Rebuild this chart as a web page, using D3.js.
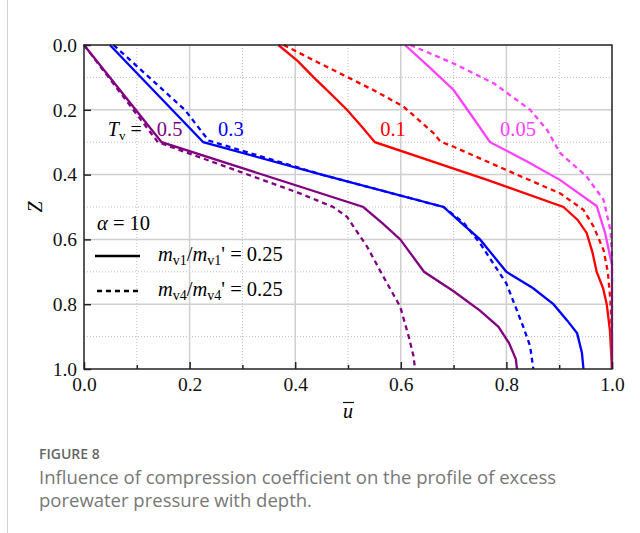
<!DOCTYPE html>
<html lang="en">
<head>
<meta charset="utf-8">
<title>Figure 8</title>
<script src="https://d3js.org/d3.v7.min.js"></script>
<style>
  body { margin: 0; background: #fff; }
  svg text { font-family: "Liberation Serif", "Times New Roman", serif; }
  svg text.caption { font-family: "Open Sans", sans-serif; fill: #777; }
</style>
</head>
<body>
<script>
// data: [u, Z] pairs
var tv05Solid = [[0,0],[0.147,0.30],[0.529,0.50],[0.565,0.55],[0.599,0.60],[0.644,0.70],[0.70,0.76],[0.75,0.82],[0.785,0.87],[0.805,0.92],[0.818,0.97],[0.82,1.0]];
var tv05Dash  = [[0,0],[0.14,0.30],[0.409,0.458],[0.472,0.50],[0.498,0.53],[0.536,0.622],[0.567,0.715],[0.599,0.808],[0.615,0.90],[0.624,0.96],[0.627,1.0]];
var tv03Solid = [[0.049,0],[0.226,0.30],[0.45,0.40],[0.681,0.50],[0.715,0.55],[0.75,0.60],[0.80,0.70],[0.85,0.75],[0.889,0.80],[0.915,0.85],[0.934,0.89],[0.943,0.95],[0.946,1.0]];
var tv03Dash  = [[0.056,0],[0.191,0.20],[0.236,0.295],[0.45,0.40],[0.681,0.50],[0.72,0.55],[0.75,0.612],[0.80,0.736],[0.832,0.87],[0.845,0.93],[0.851,1.0]];
var tv01Solid = [[0.368,0],[0.405,0.05],[0.435,0.10],[0.467,0.15],[0.498,0.20],[0.525,0.25],[0.551,0.30],[0.765,0.417],[0.908,0.50],[0.935,0.54],[0.952,0.58],[0.963,0.64],[0.971,0.70],[0.983,0.75],[0.99,0.80],[0.996,0.88],[1.0,1.0]];
var tv01Dash  = [[0.378,0],[0.447,0.057],[0.548,0.139],[0.605,0.19],[0.662,0.272],[0.675,0.298],[0.70,0.314],[0.80,0.386],[0.902,0.458],[0.946,0.509],[0.965,0.56],[0.984,0.633],[0.992,0.70],[0.997,0.787],[1.0,0.9],[1.0,1.0]];
var tv005Solid = [[0.608,0],[0.655,0.07],[0.70,0.139],[0.735,0.22],[0.769,0.30],[0.84,0.36],[0.902,0.417],[0.971,0.497],[0.987,0.58],[1.0,0.68],[1.0,1.0]];
var tv005Dash  = [[0.618,0],[0.70,0.057],[0.776,0.118],[0.845,0.20],[0.877,0.262],[0.902,0.334],[0.952,0.406],[0.984,0.478],[0.997,0.571],[1.0,0.65],[1.0,1.0]];

var majorTicks = [0, 0.2, 0.4, 0.6, 0.8, 1.0];
var minorTicks = [0.1, 0.3, 0.5, 0.7, 0.9];

var series = [
  {data: tv05Solid, color: "#800080", dash: null},
  {data: tv05Dash,  color: "#800080", dash: "5,4"},
  {data: tv03Solid, color: "#0000ff", dash: null},
  {data: tv03Dash,  color: "#0000ff", dash: "5,4"},
  {data: tv01Solid, color: "#ff0000", dash: null},
  {data: tv01Dash,  color: "#ff0000", dash: "5,4"},
  {data: tv005Solid, color: "#ff40ff", dash: null},
  {data: tv005Dash,  color: "#ff40ff", dash: "5,4"}
];

// curve labels: text, u, Z (baseline)
var tvLabels = [
  {t: "0.5", u: 0.138, z: 0.28, color: "#800080"},
  {t: "0.3", u: 0.254, z: 0.28, color: "#0000ff"},
  {t: "0.1", u: 0.561, z: 0.28, color: "#ff0000"},
  {t: "0.05", u: 0.788, z: 0.28, color: "#ff40ff"}
];

var W = 640, H = 533;
var margin = {left: 84, top: 45},
    width = 528, height = 324;

var svg = d3.select("body").append("svg")
  .attr("width", W).attr("height", H);

// page frame line on the left
svg.append("line").attr("x1", 7.5).attr("x2", 7.5).attr("y1", 0).attr("y2", H)
  .attr("stroke", "#d0d0d0").attr("stroke-width", 1);

var g = svg.append("g").attr("transform", "translate(" + margin.left + "," + margin.top + ")");

var x = d3.scaleLinear().domain([0, 1]).range([0, width]);
var y = d3.scaleLinear().domain([0, 1]).range([0, height]);

// grid
g.selectAll(".minx").data(minorTicks).enter().append("line")
  .attr("x1", x).attr("x2", x).attr("y1", 0).attr("y2", height)
  .attr("stroke", "#bdbdbd").attr("stroke-dasharray", "1,2");
g.selectAll(".miny").data(minorTicks).enter().append("line")
  .attr("y1", y).attr("y2", y).attr("x1", 0).attr("x2", width)
  .attr("stroke", "#bdbdbd").attr("stroke-dasharray", "1,2");
g.selectAll(".majx").data(majorTicks.slice(1, 5)).enter().append("line")
  .attr("x1", x).attr("x2", x).attr("y1", 0).attr("y2", height)
  .attr("stroke", "#cfcfcf").attr("stroke-width", 1.5);
g.selectAll(".majy").data(majorTicks.slice(1, 5)).enter().append("line")
  .attr("y1", y).attr("y2", y).attr("x1", 0).attr("x2", width)
  .attr("stroke", "#cfcfcf").attr("stroke-width", 1.5);

// curves
var line = d3.line().x(function(d) { return x(d[0]); }).y(function(d) { return y(d[1]); });
g.selectAll(".curve").data(series).enter().append("path")
  .attr("class", "curve")
  .attr("d", function(d) { return line(d.data); })
  .attr("fill", "none")
  .attr("stroke", function(d) { return d.color; })
  .attr("stroke-width", 2.3)
  .attr("stroke-dasharray", function(d) { return d.dash; });

// frame
g.append("rect").attr("width", width).attr("height", height)
  .attr("fill", "none").attr("stroke", "#222").attr("stroke-width", 1.5);

// axes
var xAxis = d3.axisBottom(x).tickValues(majorTicks).tickFormat(d3.format(".1f"))
  .tickSizeInner(-7).tickSizeOuter(0).tickPadding(8);
var gx = g.append("g").attr("transform", "translate(0," + height + ")").call(xAxis);
var xMinor = d3.axisBottom(x).tickValues(minorTicks).tickFormat("").tickSizeInner(-4).tickSizeOuter(0);
g.append("g").attr("transform", "translate(0," + height + ")").call(xMinor)
  .select(".domain").remove();

var yAxis = d3.axisLeft(y).tickValues(majorTicks).tickFormat(d3.format(".1f"))
  .tickSizeInner(-7).tickSizeOuter(0).tickPadding(7);
var gy = g.append("g").call(yAxis);

[gx, gy].forEach(function(a) {
  a.select(".domain").remove();
  a.selectAll("text").attr("font-family", "Liberation Serif, serif").attr("font-size", 19.5).attr("fill", "#111");
});
g.selectAll(".tick line").attr("stroke", "#222").attr("stroke-width", 1.5);

// axis titles
svg.append("text").attr("transform", "translate(42,207) rotate(-90)")
  .attr("text-anchor", "middle").attr("font-size", 20).attr("font-style", "italic").text("Z");
svg.append("text").attr("x", margin.left + x(0.5)).attr("y", 418)
  .attr("text-anchor", "middle").attr("font-size", 20).attr("font-style", "italic").text("u");
svg.append("line").attr("x1", margin.left + x(0.5) - 5).attr("x2", margin.left + x(0.5) + 6)
  .attr("y1", 402.5).attr("y2", 402.5).attr("stroke", "#111").attr("stroke-width", 1.2);

// T_v label
var tv = g.append("text").attr("x", x(0.045)).attr("y", y(0.28)).attr("font-size", 20);
tv.append("tspan").attr("font-style", "italic").text("T");
tv.append("tspan").attr("font-size", 13).attr("dy", 4).text("v");
tv.append("tspan").attr("dy", -4).text(" =");

g.selectAll(".tvl").data(tvLabels).enter().append("text")
  .attr("x", function(d) { return x(d.u); })
  .attr("y", function(d) { return y(d.z); })
  .attr("font-size", 20.5)
  .attr("fill", function(d) { return d.color; })
  .text(function(d) { return d.t; });

// legend
var lg = svg.append("g");
var al = lg.append("text").attr("x", 97).attr("y", 230).attr("font-size", 20.5);
al.append("tspan").attr("font-style", "italic").text("\u03b1");
al.append("tspan").text(" = 10");

function ratioLabel(yy, sub) {
  var t = lg.append("text").attr("x", 158).attr("y", yy).attr("font-size", 20.5);
  t.append("tspan").attr("font-style", "italic").text("m");
  t.append("tspan").attr("font-size", 14).attr("dy", 4).text("v" + sub);
  t.append("tspan").attr("dy", -4).text("/");
  t.append("tspan").attr("font-style", "italic").text("m");
  t.append("tspan").attr("font-size", 14).attr("dy", 4).text("v" + sub);
  t.append("tspan").attr("dy", -4).text("' = 0.25");
}
lg.append("line").attr("x1", 95).attr("x2", 140).attr("y1", 256).attr("y2", 256)
  .attr("stroke", "#000").attr("stroke-width", 2.3);
ratioLabel(261, "1");
lg.append("line").attr("x1", 97).attr("x2", 140).attr("y1", 291).attr("y2", 291)
  .attr("stroke", "#000").attr("stroke-width", 2.3).attr("stroke-dasharray", "5,4");
ratioLabel(296, "4");

// caption
svg.append("text").attr("class", "caption").attr("x", 39).attr("y", 459)
  .attr("font-size", 14).attr("font-weight", 600).style("fill", "#666").text("FIGURE 8");
svg.append("text").attr("class", "caption").attr("x", 39).attr("y", 484)
  .attr("font-size", 18.5).text("Influence of compression coefficient on the profile of excess");
svg.append("text").attr("class", "caption").attr("x", 39).attr("y", 507)
  .attr("font-size", 18.5).text("porewater pressure with depth.");
</script>
</body>
</html>
